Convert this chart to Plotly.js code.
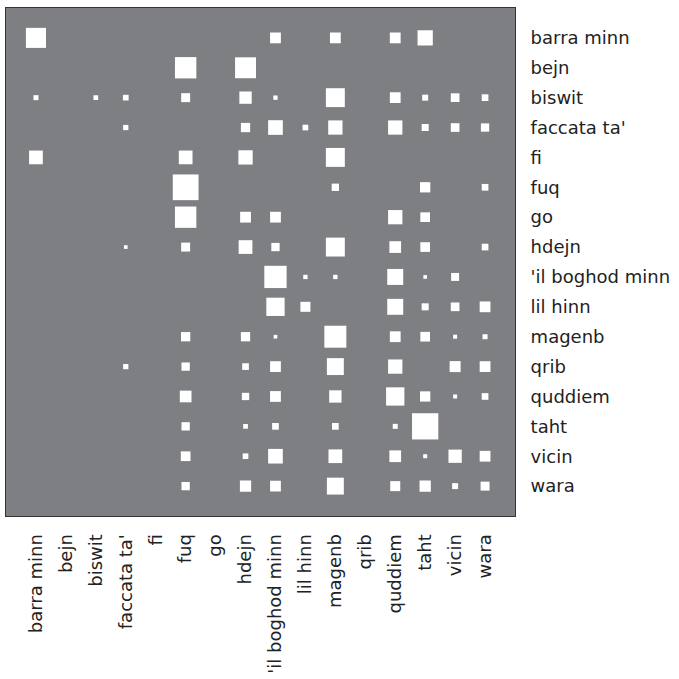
<!DOCTYPE html>
<html>
<head>
<meta charset="utf-8">
<script src="https://cdn.plot.ly/plotly-3.0.1.min.js"></script>
<style>html,body{margin:0;padding:0;background:#fff;}#chart{width:679px;height:679px;}</style>
</head>
<body>
<div id="chart"></div>
<script>
// Row / column labels (same list on both axes)
const labels = ["barra minn","bejn","biswit","faccata ta'","fi","fuq","go","hdejn",
  "'il boghod minn","lil hinn","magenb","qrib","quddiem","taht","vicin","wara"];

// Hinton weights: square side (in cell units) = sqrt(weight)
//            bar  bej  bis  fac  fi   fuq  go   hde  ilb  lil  mag  qri  qud  tah  vic  war
const weights = [
  [0.45,0,   0,    0,    0,0,   0,0,    0.13, 0,    0.13, 0,0.13, 0.26, 0,    0   ], // barra minn
  [0,   0,   0,    0,    0,0.51,0,0.49, 0,    0,    0,    0,0,    0,    0,    0   ], // bejn
  [0.028,0,  0.025,0.036,0,0.09,0,0.17, 0.021,0,    0.40, 0,0.13, 0.04, 0.084,0.05], // biswit
  [0,   0,   0,    0.031,0,0,   0,0.096,0.24, 0.036,0.228,0,0.228,0.055,0.084,0.077], // faccata ta'
  [0.21,0,   0,    0,    0,0.21,0,0.228,0,    0,    0.40, 0,0,    0,    0,    0   ], // fi
  [0,   0,   0,    0,    0,0.74,0,0,    0,    0,    0.06, 0,0,    0.118,0,    0.05], // fuq
  [0,   0,   0,    0,    0,0.51,0,0.13, 0.13, 0,    0,    0,0.228,0.105,0,    0   ], // go
  [0,   0,   0,    0.015,0,0.09,0,0.21, 0.077,0,    0.40, 0,0.153,0.105,0,    0.05], // hdejn
  [0,   0,   0,    0,    0,0,   0,0,    0.555,0.021,0.021,0,0.285,0.015,0.071,0   ], // 'il boghod minn
  [0,   0,   0,    0,    0,0,   0,0,    0.374,0.112,0,    0,0.285,0.055,0.084,0.13], // lil hinn
  [0,   0,   0,    0,    0,0.096,0,0.096,0.015,0,   0.54, 0,0.13, 0.105,0.018,0.028], // magenb
  [0,   0,   0,    0.031,0,0.077,0,0.05, 0.13, 0,    0.32, 0,0.228,0,    0.135,0.13], // qrib
  [0,   0,   0,    0,    0,0.153,0,0.06, 0.13, 0,    0.17, 0,0.374,0.118,0.018,0.05], // quddiem
  [0,   0,   0,    0,    0,0.077,0,0.025,0.05, 0,    0.05, 0,0.028,0.77, 0,    0   ], // taht
  [0,   0,   0,    0,    0,0.105,0,0.036,0.24, 0,    0.21, 0,0.153,0.018,0.197,0.13], // vicin
  [0,   0,   0,    0,    0,0.077,0,0.142,0.13, 0,    0.32, 0,0.112,0.142,0.04, 0.09]  // wara
];

const idx = labels.map((_, i) => i);
const shapes = [];
weights.forEach((row, r) => {
  row.forEach((w, c) => {
    if (w <= 0) return;
    const s = Math.sqrt(w);
    shapes.push({
      type: 'rect', xref: 'x', yref: 'y', layer: 'above',
      x0: c - s / 2, x1: c + s / 2, y0: r - s / 2, y1: r + s / 2,
      fillcolor: '#ffffff', line: {width: 0}
    });
  });
});

const tickFont = {family: 'DejaVu Sans', size: 18, color: '#222222'};
const data = [{
  type: 'scatter', mode: 'markers', x: [0], y: [0],
  marker: {opacity: 0}, hoverinfo: 'skip', showlegend: false
}];
const layout = {
  width: 679, height: 679,
  margin: {l: 6, r: 164, t: 8, b: 163},
  paper_bgcolor: '#ffffff', plot_bgcolor: '#7e7f83',
  showlegend: false,
  xaxis: {
    range: [-1, 16], tickvals: idx, ticktext: labels, tickangle: -90,
    showgrid: false, zeroline: false, ticks: '', ticklabelstandoff: 10,
    showline: true, mirror: true, linecolor: '#333333', linewidth: 1,
    tickfont: tickFont, fixedrange: true
  },
  yaxis: {
    range: [16, -1], tickvals: idx, ticktext: labels, side: 'right',
    showgrid: false, zeroline: false, ticks: '', ticklabelstandoff: 11,
    showline: true, mirror: true, linecolor: '#333333', linewidth: 1,
    tickfont: tickFont, fixedrange: true
  },
  shapes: shapes
};
Plotly.newPlot('chart', data, layout, {staticPlot: true, displayModeBar: false});
</script>
</body>
</html>
